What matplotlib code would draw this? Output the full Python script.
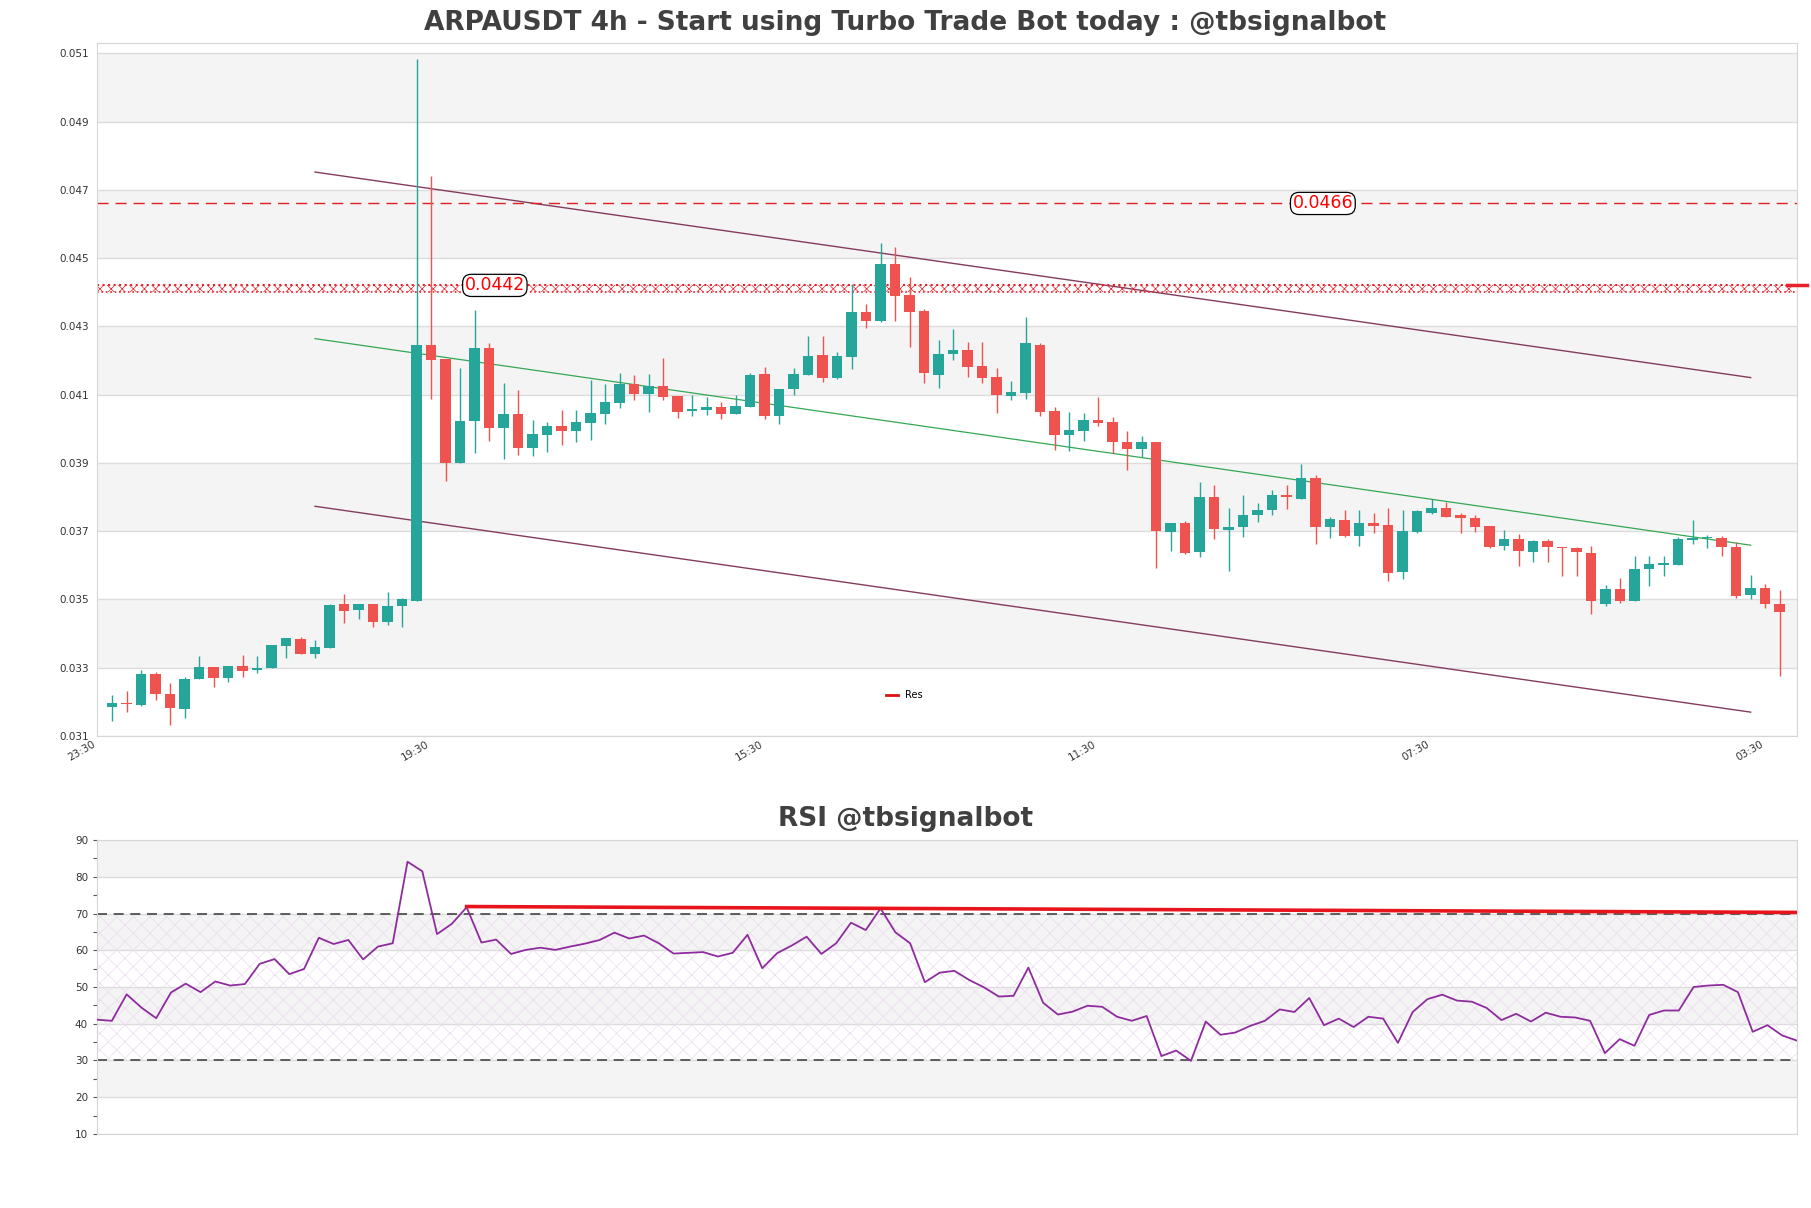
import matplotlib
import matplotlib.pyplot as plt
from matplotlib.lines import Line2D

matplotlib.use('Agg')

title = 'ARPAUSDT 4h - Start using Turbo Trade Bot today : @tbsignalbot'
rsi_title = 'RSI @tbsignalbot'

# 4h candles, oldest first
opens = [0.03185, 0.03198, 0.03191, 0.03283, 0.03223, 0.03178, 0.03266, 0.03303, 0.03270, 0.03305,
         0.03293, 0.03299, 0.03365, 0.03385, 0.03341, 0.03358, 0.03487, 0.03468, 0.03487, 0.03435,
         0.03481, 0.03497, 0.04244, 0.04205, 0.03901, 0.04024, 0.04236, 0.04003, 0.04043, 0.03945,
         0.03983, 0.04007, 0.03994, 0.04018, 0.04044, 0.04076, 0.04131, 0.04103, 0.04125, 0.04096,
         0.04051, 0.04056, 0.04063, 0.04044, 0.04064, 0.04160, 0.04036, 0.04116, 0.04157, 0.04215,
         0.04149, 0.04210, 0.04341, 0.04316, 0.04484, 0.04391, 0.04344, 0.04157, 0.04218, 0.04231,
         0.04183, 0.04153, 0.04097, 0.04104, 0.04246, 0.04051, 0.03982, 0.03993, 0.04025, 0.04019,
         0.03961, 0.03941, 0.03961, 0.03699, 0.03723, 0.03640, 0.03799, 0.03703, 0.03712, 0.03746,
         0.03762, 0.03806, 0.03795, 0.03855, 0.03712, 0.03733, 0.03687, 0.03723, 0.03719, 0.03580,
         0.03699, 0.03754, 0.03769, 0.03746, 0.03740, 0.03716, 0.03656, 0.03676, 0.03640, 0.03672,
         0.03654, 0.03650, 0.03636, 0.03488, 0.03531, 0.03497, 0.03590, 0.03602, 0.03602, 0.03674,
         0.03679, 0.03680, 0.03654, 0.03513, 0.03534, 0.03487]
highs = [0.03219, 0.03232, 0.03293, 0.03288, 0.03256, 0.03272, 0.03333, 0.03303, 0.03305, 0.03336,
         0.03333, 0.03368, 0.03387, 0.03391, 0.03382, 0.03487, 0.03516, 0.03487, 0.03487, 0.03521,
         0.03505, 0.05082, 0.04740, 0.04205, 0.04177, 0.04348, 0.04252, 0.04133, 0.04113, 0.04027,
         0.04019, 0.04056, 0.04054, 0.04144, 0.04131, 0.04162, 0.04157, 0.04160, 0.04206, 0.04096,
         0.04099, 0.04093, 0.04078, 0.04099, 0.04162, 0.04182, 0.04117, 0.04177, 0.04272, 0.04272,
         0.04226, 0.04425, 0.04365, 0.04544, 0.04531, 0.04444, 0.04352, 0.04259, 0.04292, 0.04255,
         0.04255, 0.04177, 0.04140, 0.04328, 0.04250, 0.04063, 0.04048, 0.04047, 0.04093, 0.04035,
         0.03994, 0.03980, 0.03961, 0.03725, 0.03731, 0.03844, 0.03835, 0.03769, 0.03806, 0.03782,
         0.03822, 0.03835, 0.03897, 0.03866, 0.03742, 0.03762, 0.03762, 0.03753, 0.03769, 0.03762,
         0.03762, 0.03795, 0.03786, 0.03752, 0.03746, 0.03716, 0.03703, 0.03693, 0.03674, 0.03676,
         0.03654, 0.03655, 0.03656, 0.03541, 0.03564, 0.03626, 0.03626, 0.03626, 0.03683, 0.03732,
         0.03689, 0.03686, 0.03667, 0.03573, 0.03544, 0.03527]
lows = [0.03144, 0.03170, 0.03187, 0.03206, 0.03132, 0.03153, 0.03266, 0.03243, 0.03259, 0.03272,
        0.03285, 0.03299, 0.03328, 0.03341, 0.03328, 0.03358, 0.03431, 0.03442, 0.03418, 0.03425,
        0.03418, 0.03497, 0.04087, 0.03848, 0.03899, 0.03928, 0.03965, 0.03912, 0.03924, 0.03919,
        0.03932, 0.03952, 0.03961, 0.03968, 0.04014, 0.04060, 0.04084, 0.04050, 0.04084, 0.04031,
        0.04038, 0.04040, 0.04030, 0.04044, 0.04064, 0.04030, 0.04014, 0.04100, 0.04157, 0.04138,
        0.04146, 0.04176, 0.04295, 0.04312, 0.04316, 0.04239, 0.04133, 0.04120, 0.04202, 0.04153,
        0.04133, 0.04047, 0.04084, 0.04087, 0.04038, 0.03938, 0.03934, 0.03964, 0.04007, 0.03928,
        0.03878, 0.03917, 0.03593, 0.03643, 0.03633, 0.03623, 0.03676, 0.03583, 0.03683, 0.03727,
        0.03746, 0.03765, 0.03793, 0.03663, 0.03680, 0.03683, 0.03656, 0.03696, 0.03554, 0.03560,
        0.03696, 0.03749, 0.03742, 0.03696, 0.03699, 0.03650, 0.03646, 0.03599, 0.03610, 0.03610,
        0.03568, 0.03568, 0.03458, 0.03482, 0.03491, 0.03497, 0.03540, 0.03570, 0.03600, 0.03663,
        0.03652, 0.03626, 0.03504, 0.03501, 0.03474, 0.03276]
closes = [0.03198, 0.03193, 0.03283, 0.03222, 0.03181, 0.03268, 0.03303, 0.03270, 0.03305, 0.03291,
          0.03300, 0.03368, 0.03387, 0.03341, 0.03361, 0.03484, 0.03466, 0.03487, 0.03435, 0.03481,
          0.03500, 0.04244, 0.04202, 0.03901, 0.04024, 0.04236, 0.04003, 0.04043, 0.03945, 0.03985,
          0.04007, 0.03994, 0.04019, 0.04046, 0.04078, 0.04131, 0.04103, 0.04125, 0.04093, 0.04050,
          0.04058, 0.04063, 0.04044, 0.04066, 0.04157, 0.04038, 0.04117, 0.04160, 0.04213, 0.04149,
          0.04213, 0.04341, 0.04316, 0.04484, 0.04389, 0.04341, 0.04164, 0.04219, 0.04230, 0.04182,
          0.04149, 0.04100, 0.04107, 0.04250, 0.04050, 0.03982, 0.03995, 0.04025, 0.04017, 0.03960,
          0.03941, 0.03961, 0.03700, 0.03723, 0.03636, 0.03799, 0.03705, 0.03712, 0.03746, 0.03762,
          0.03805, 0.03799, 0.03855, 0.03712, 0.03736, 0.03687, 0.03723, 0.03715, 0.03577, 0.03700,
          0.03760, 0.03769, 0.03742, 0.03740, 0.03713, 0.03654, 0.03676, 0.03643, 0.03670, 0.03654,
          0.03650, 0.03639, 0.03497, 0.03531, 0.03497, 0.03590, 0.03603, 0.03604, 0.03676, 0.03680,
          0.03681, 0.03654, 0.03511, 0.03534, 0.03487, 0.03464]

rsi = [41.1, 40.8, 48.0, 44.4, 41.5, 48.5, 50.9, 48.6, 51.5, 50.4,
       50.8, 56.3, 57.6, 53.5, 54.9, 63.4, 61.7, 62.8, 57.5, 61.0,
       61.9, 84.1, 81.5, 64.4, 67.2, 71.7, 62.1, 62.9, 59.0, 60.1,
       60.7, 60.1, 61.0, 61.8, 62.8, 64.8, 63.2, 64.0, 61.9, 59.1,
       59.3, 59.5, 58.3, 59.3, 64.2, 55.1, 59.2, 61.3, 63.7, 59.0,
       61.9, 67.5, 65.5, 71.4, 64.9, 61.9, 51.3, 53.9, 54.4, 51.9,
       49.9, 47.4, 47.6, 55.3, 45.7, 42.5, 43.3, 44.9, 44.6, 41.9,
       40.8, 42.1, 31.2, 32.7, 29.9, 40.6, 37.0, 37.6, 39.4, 40.8,
       43.9, 43.2, 47.0, 39.6, 41.4, 39.1, 41.9, 41.4, 34.8, 43.2,
       46.7, 47.9, 46.3, 46.0, 44.3, 41.0, 42.7, 40.6, 43.0, 41.9,
       41.7, 40.8, 32.0, 35.8, 34.0, 42.4, 43.6, 43.6, 50.0, 50.4,
       50.6, 48.6, 37.8, 39.6, 36.8, 35.4]

xtick_pos = [-1, 22, 45, 68, 91, 114]
xtick_labels = ['23:30', '19:30', '15:30', '11:30', '07:30', '03:30']
ytick_vals = [0.031, 0.033, 0.035, 0.037, 0.039, 0.041, 0.043, 0.045, 0.047, 0.049, 0.051]

# channel (start/end candle index and prices)
chan_x = [14, 113]
chan_upper = [0.04752, 0.04150]
chan_mid = [0.04264, 0.03659]
chan_lower = [0.03773, 0.03170]

res_level = 0.0466
res_zone = (0.04400, 0.04422)
res_zone_label = 0.0442
label_idx = [26.4, 83.5]

rsi_res_x = [25, 115]
rsi_res_y = [71.9, 70.3]

UP = '#26a69a'
DOWN = '#ef5350'
BAND = '#f4f4f4'
GRID = '#dcdcdc'

plt.rcParams['hatch.linewidth'] = 0.5

fig = plt.figure(figsize=(18.11, 12.08), dpi=100)
ax = fig.add_axes([0.0536, 0.3907, 0.9387, 0.5737])
ax2 = fig.add_axes([0.0536, 0.0613, 0.9387, 0.2433])

# ---- price panel ----
n = len(opens)
xs = list(range(n))
for i in range(0, len(ytick_vals) - 1, 2):
    ax.axhspan(ytick_vals[i + 1], ytick_vals[i + 2] if i + 2 < len(ytick_vals) else ytick_vals[i + 1],
               color=BAND, lw=0, zorder=0)
for yv in ytick_vals:
    ax.axhline(yv, color=GRID, lw=1, zorder=0.5)

cols = [UP if c >= o else DOWN for o, c in zip(opens, closes)]
ax.vlines(xs, lows, highs, colors=cols, lw=1, zorder=3)
bottoms = [min(o, c) for o, c in zip(opens, closes)]
heights = [max(abs(c - o), 0.00004) for o, c in zip(opens, closes)]
ax.bar(xs, heights, bottom=bottoms, width=0.72, color=cols, lw=0, zorder=4)

ax.plot(chan_x, chan_upper, color='#843c5e', lw=1, zorder=2)
ax.plot(chan_x, chan_lower, color='#843c5e', lw=1, zorder=2)
ax.plot(chan_x, chan_mid, color='#34a853', lw=0.9, zorder=2)

ax.axhline(res_level, color='#e02020', lw=1, ls=(0, (8, 5)), zorder=2)
ax.axhspan(res_zone[0], res_zone[1], facecolor='none', edgecolor='#e8202a', hatch='xxx', lw=0, zorder=2)
ax.axhline(res_zone[0], color='#e8202a', lw=1.2, ls=':', zorder=2)
ax.axhline(res_zone[1], color='#e8202a', lw=1.5, ls=':', zorder=2)
ax.plot([n - 0.5, n + 0.9], [res_zone[1], res_zone[1]], color='#e8202a', lw=2.5,
        clip_on=False, zorder=5)

for xi, val in zip(label_idx, [res_zone_label, res_level]):
    ax.text(xi, val, f'{val:.4f}', color='red', fontsize=12.5, ha='center', va='center', zorder=6,
            bbox=dict(boxstyle='round,pad=0.12,rounding_size=0.5', fc='white', ec='black', lw=0.9))

ax.set_xlim(-1.03, n + 0.2)
ax.set_ylim(0.031, 0.0513)
ax.set_yticks(ytick_vals)
ax.set_yticklabels([f'{v:.3f}' for v in ytick_vals])
ax.set_xticks(xtick_pos)
ax.set_xticklabels(xtick_labels, rotation=30, ha='right')
ax.tick_params(axis='both', labelsize=7.5, labelcolor='#333333', length=0, pad=6)
ax.tick_params(axis='x', pad=2)
for sp in ax.spines.values():
    sp.set_color('#d6d6d6')

ax.legend(handles=[Line2D([0], [0], color='#dd1111', lw=2, label='Res')], loc='center',
          bbox_to_anchor=(0.475, 0.059), frameon=False, fontsize=7, handlelength=1.2)

fig.text(0.5, 1 - 23 / 1208, title, ha='center', va='center', fontsize=19,
         fontweight='bold', color='#404040')

# ---- RSI panel ----
rsi_bands = [10, 20, 30, 40, 50, 60, 70, 80, 90]
for i in range(1, len(rsi_bands) - 1, 2):
    ax2.axhspan(rsi_bands[i], rsi_bands[i + 1], color=BAND, lw=0, zorder=0)
for yv in rsi_bands:
    ax2.axhline(yv, color=GRID, lw=1, zorder=0.5)
ax2.axhspan(30, 70, facecolor='none', edgecolor='#eadcee', hatch='xx', lw=0, zorder=1)
ax2.axhline(70, color='#444444', lw=1.2, ls=(0, (6, 4)), zorder=2)
ax2.axhline(30, color='#444444', lw=1.2, ls=(0, (6, 4)), zorder=2)
ax2.plot(range(len(rsi)), rsi, color='#8e2c9e', lw=1.3, zorder=3)
ax2.plot(rsi_res_x, rsi_res_y, color='#e8141c', lw=2.6, zorder=4)

ax2.set_xlim(0, len(rsi) - 1)
ax2.set_ylim(10, 90)
ax2.set_yticks(rsi_bands)
ax2.set_yticks(range(15, 90, 10), minor=True)
ax2.set_xticks([])
ax2.tick_params(axis='y', which='both', labelsize=7.5, labelcolor='#333333', color='#555555',
                length=3, width=0.8)
for sp in ax2.spines.values():
    sp.set_color('#d6d6d6')

fig.text(0.5, 1 - 819 / 1208, rsi_title, ha='center', va='center', fontsize=19,
         fontweight='bold', color='#404040')

plt.savefig('out.png', dpi=100)
plt.close(fig)
